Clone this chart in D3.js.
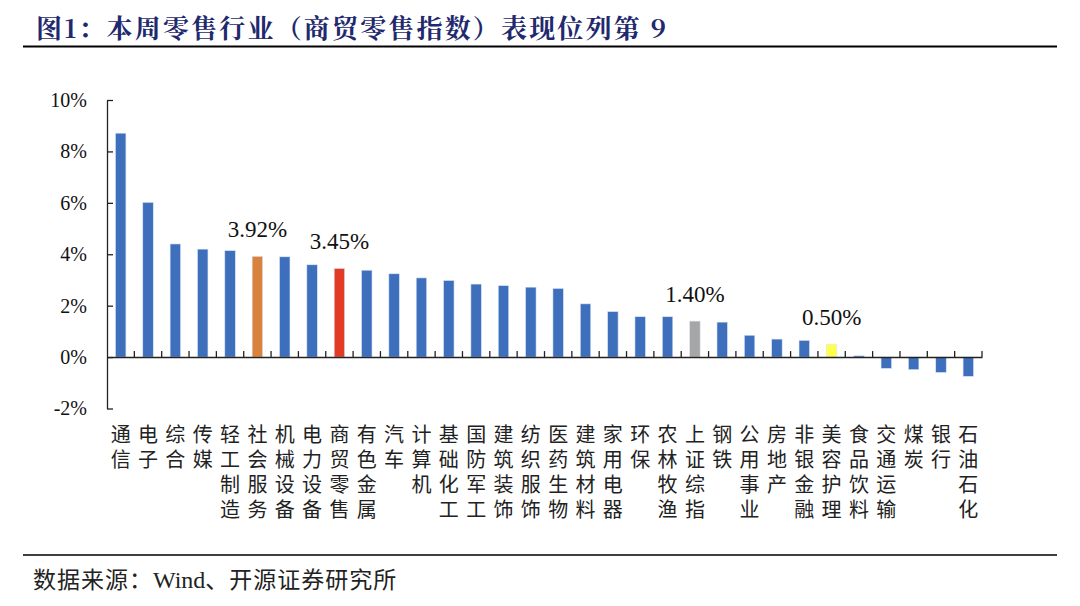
<!DOCTYPE html>
<html><head><meta charset="utf-8">
<script src="https://cdn.jsdelivr.net/npm/d3@7"></script>
<style>
body{margin:0;background:#fff;}
svg{display:block;}
</style></head>
<body>
<svg id="c" width="1080" height="606"></svg>
<script>
const categories = ["通信","电子","综合","传媒","轻工制造","社会服务","机械设备","电力设备","商贸零售","有色金属","汽车","计算机","基础化工","国防军工","建筑装饰","纺织服饰","医药生物","建筑材料","家用电器","环保","农林牧渔","上证综指","钢铁","公用事业","房地产","非银金融","美容护理","食品饮料","交通运输","煤炭","银行","石油石化"];
const values = [8.71,6.02,4.40,4.20,4.14,3.92,3.90,3.59,3.45,3.38,3.24,3.08,2.98,2.84,2.78,2.72,2.67,2.07,1.77,1.57,1.57,1.40,1.36,0.85,0.70,0.65,0.50,0.05,-0.44,-0.49,-0.60,-0.75];
const highlights = {"社会服务":"#D8823E","商贸零售":"#E23A26","上证综指":"#A6A6A6","美容护理":"#FFFF4D"};
const labeled = ["社会服务","商贸零售","上证综指","美容护理"];
const yTicks = [-2,0,2,4,6,8,10];

const svg = d3.select("#c");
const title = "图1：本周零售行业（商贸零售指数）表现位列第 9";
svg.append("text").attr("x",36).attr("y",38).text(title)
  .attr("font-family","'Noto Serif CJK SC','Noto Sans CJK SC',serif").attr("font-weight",700)
  .attr("font-size",26).attr("fill","#1F2A6E")
  .attr("textLength",630).attr("lengthAdjust","spacing");
svg.append("line").attr("x1",23).attr("x2",1057).attr("y1",46.5).attr("y2",46.5).attr("stroke","#000").attr("stroke-width",2);
svg.append("line").attr("x1",23).attr("x2",1057).attr("y1",555).attr("y2",555).attr("stroke","#000").attr("stroke-width",1.5);
const src = svg.append("text").attr("x",33).attr("y",588)
  .attr("font-family","'Noto Sans CJK SC',sans-serif").attr("font-size",23).attr("fill","#222")
  .attr("letter-spacing",1);
src.append("tspan").text("数据来源：");
src.append("tspan").attr("font-family","'Liberation Serif','Times New Roman',serif").attr("font-size",24).attr("letter-spacing",0).text("Wind");
src.append("tspan").text("、开源证券研究所");

const x = d3.scaleBand().domain(categories).range([107,982]).paddingInner(0).paddingOuter(0);
const y = d3.scaleLinear().domain([-2,10]).range([408.5,100]);

// y axis
const yAxis = d3.axisLeft(y).tickValues(yTicks).tickSizeInner(-6).tickSizeOuter(0).tickPadding(20)
  .tickFormat(d=>d+"%");
const ya = svg.append("g").attr("transform","translate(107,0)").call(yAxis);
ya.select(".domain").attr("stroke","#222").attr("stroke-width",1.3);
ya.selectAll(".tick line").attr("stroke","#222").attr("stroke-width",1.3);
ya.selectAll(".tick text").attr("font-family","'Liberation Serif','Times New Roman',serif").attr("font-size",20).attr("fill","#111");

// bars
const bw = 10.5;
svg.append("g").selectAll("rect").data(categories).join("rect")
  .attr("x",(d)=>x(d)+x.bandwidth()/2-bw/2)
  .attr("width",bw)
  .attr("y",(d,i)=>y(Math.max(0,values[i])))
  .attr("height",(d,i)=>Math.abs(y(values[i])-y(0)))
  .attr("fill",d=>highlights[d]||"#3E6FBD")
  .attr("stroke","#DCE6F4").attr("stroke-width",0.6);

// x axis
const xAxis = d3.axisBottom(x).tickSize(0).tickFormat("");
const xa = svg.append("g").attr("transform",`translate(0,${y(0)})`).call(xAxis);
xa.select(".domain").attr("stroke","#222").attr("stroke-width",1.5);
const bounds = categories.map(c=>x(c)).concat([x.range()[1]]).slice(1);
svg.append("g").selectAll("line").data(bounds).join("line")
  .attr("x1",d=>d).attr("x2",d=>d).attr("y1",y(0)).attr("y2",y(0)-6)
  .attr("stroke","#222").attr("stroke-width",1.3);

// category labels, vertical text
svg.append("g").selectAll("text").data(categories).join("text")
  .attr("x",d=>x(d)+x.bandwidth()/2).attr("y",424)
  .style("writing-mode","vertical-rl")
  .attr("letter-spacing",5)
  .attr("font-family","'Noto Sans CJK SC',sans-serif").attr("font-size",20).attr("fill","#222")
  .text(d=>d);

// value labels
labeled.forEach(c=>{
  const i = categories.indexOf(c);
  svg.append("text").attr("x",x(c)+x.bandwidth()/2).attr("y",y(values[i])-19)
    .attr("text-anchor","middle").attr("font-family","'Liberation Serif','Times New Roman',serif")
    .attr("font-size",23).attr("fill","#111").text(values[i].toFixed(2)+"%");
});
</script>
</body></html>
